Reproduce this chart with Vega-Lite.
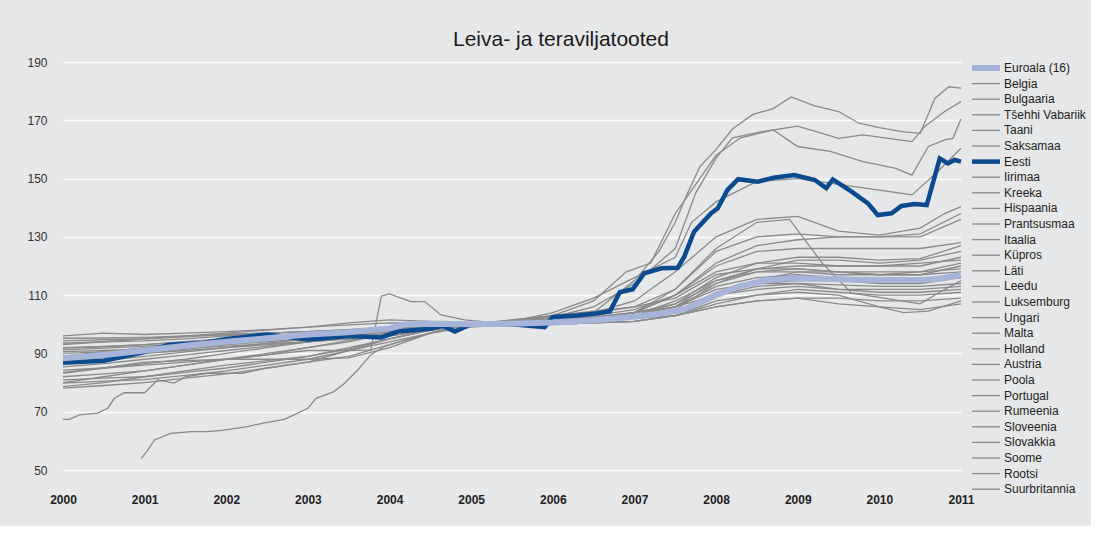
{
"$schema":"https://vega.github.io/schema/vega-lite/v6.json",
"width":898,"height":408,
"padding":{"left":26,"top":29,"right":5,"bottom":21},
"background":"#e6e7e9",
"title":{"text":"Leiva- ja teraviljatooted","fontSize":21,"fontWeight":"normal","font":"Liberation Sans","color":"#1a1a1a","anchor":"middle","dx":49,"offset":6},
"datasets":{"d":[
{"c":"Euroala (16)","t":2000,"v":88.3},{"c":"Euroala (16)","t":2000.5,"v":89.5},{"c":"Euroala (16)","t":2001,"v":91},{"c":"Euroala (16)","t":2001.5,"v":92.6},{"c":"Euroala (16)","t":2002,"v":94},{"c":"Euroala (16)","t":2002.5,"v":95.2},{"c":"Euroala (16)","t":2003,"v":96.5},{"c":"Euroala (16)","t":2003.5,"v":97.3},{"c":"Euroala (16)","t":2004,"v":98.6},{"c":"Euroala (16)","t":2004.2,"v":100},{"c":"Euroala (16)","t":2004.6,"v":100.2},{"c":"Euroala (16)","t":2005,"v":100},{"c":"Euroala (16)","t":2005.5,"v":100.2},{"c":"Euroala (16)","t":2006,"v":100.6},{"c":"Euroala (16)","t":2006.5,"v":101.4},{"c":"Euroala (16)","t":2007,"v":102.6},{"c":"Euroala (16)","t":2007.3,"v":103.6},{"c":"Euroala (16)","t":2007.6,"v":105},{"c":"Euroala (16)","t":2007.8,"v":107.5},{"c":"Euroala (16)","t":2008,"v":110},{"c":"Euroala (16)","t":2008.3,"v":113.2},{"c":"Euroala (16)","t":2008.6,"v":115},{"c":"Euroala (16)","t":2008.9,"v":115.8},{"c":"Euroala (16)","t":2009.3,"v":115.6},{"c":"Euroala (16)","t":2009.7,"v":115.3},{"c":"Euroala (16)","t":2010,"v":115.2},{"c":"Euroala (16)","t":2010.5,"v":115.2},{"c":"Euroala (16)","t":2010.7,"v":115.5},{"c":"Euroala (16)","t":2011,"v":116.9},
{"c":"Eesti","t":2000,"v":86.8},{"c":"Eesti","t":2000.5,"v":87.5},{"c":"Eesti","t":2001,"v":90.5},{"c":"Eesti","t":2001.3,"v":93},{"c":"Eesti","t":2001.7,"v":93.5},{"c":"Eesti","t":2002,"v":95},{"c":"Eesti","t":2002.5,"v":96.5},{"c":"Eesti","t":2003,"v":94.8},{"c":"Eesti","t":2003.5,"v":96},{"c":"Eesti","t":2003.9,"v":95.5},{"c":"Eesti","t":2004.1,"v":97.5},{"c":"Eesti","t":2004.5,"v":98.5},{"c":"Eesti","t":2004.65,"v":99.5},{"c":"Eesti","t":2004.8,"v":97.5},{"c":"Eesti","t":2005,"v":100},{"c":"Eesti","t":2005.5,"v":100},{"c":"Eesti","t":2005.9,"v":99},{"c":"Eesti","t":2006,"v":102.5},{"c":"Eesti","t":2006.3,"v":103},{"c":"Eesti","t":2006.55,"v":103.8},{"c":"Eesti","t":2006.7,"v":104.5},{"c":"Eesti","t":2006.82,"v":111},{"c":"Eesti","t":2006.98,"v":112},{"c":"Eesti","t":2007.12,"v":117.5},{"c":"Eesti","t":2007.33,"v":119.2},{"c":"Eesti","t":2007.53,"v":119.4},{"c":"Eesti","t":2007.61,"v":123.2},{"c":"Eesti","t":2007.73,"v":131.8},{"c":"Eesti","t":2007.94,"v":138.1},{"c":"Eesti","t":2008.02,"v":139.8},{"c":"Eesti","t":2008.14,"v":146.1},{"c":"Eesti","t":2008.27,"v":149.8},{"c":"Eesti","t":2008.51,"v":148.9},{"c":"Eesti","t":2008.72,"v":150.4},{"c":"Eesti","t":2008.96,"v":151.2},{"c":"Eesti","t":2009.21,"v":149.5},{"c":"Eesti","t":2009.35,"v":146.7},{"c":"Eesti","t":2009.43,"v":149.7},{"c":"Eesti","t":2009.66,"v":145.5},{"c":"Eesti","t":2009.86,"v":141.5},{"c":"Eesti","t":2009.98,"v":137.5},{"c":"Eesti","t":2010.15,"v":138.1},{"c":"Eesti","t":2010.27,"v":140.6},{"c":"Eesti","t":2010.43,"v":141.3},{"c":"Eesti","t":2010.58,"v":140.9},{"c":"Eesti","t":2010.74,"v":156.9},{"c":"Eesti","t":2010.84,"v":155.2},{"c":"Eesti","t":2010.92,"v":156.4},{"c":"Eesti","t":2011,"v":155.8},
{"c":"Belgia","t":2000,"v":92},{"c":"Belgia","t":2000.5,"v":92.4},{"c":"Belgia","t":2001,"v":93},{"c":"Belgia","t":2001.5,"v":94},{"c":"Belgia","t":2002,"v":95},{"c":"Belgia","t":2002.5,"v":96},{"c":"Belgia","t":2003,"v":97},{"c":"Belgia","t":2003.5,"v":98},{"c":"Belgia","t":2004,"v":99},{"c":"Belgia","t":2004.5,"v":100},{"c":"Belgia","t":2005,"v":100},{"c":"Belgia","t":2005.5,"v":100.4},{"c":"Belgia","t":2006,"v":101},{"c":"Belgia","t":2006.5,"v":102},{"c":"Belgia","t":2007,"v":104},{"c":"Belgia","t":2007.5,"v":107},{"c":"Belgia","t":2008,"v":116},{"c":"Belgia","t":2008.5,"v":121},{"c":"Belgia","t":2009,"v":123},{"c":"Belgia","t":2009.5,"v":123},{"c":"Belgia","t":2010,"v":122},{"c":"Belgia","t":2010.5,"v":122.5},{"c":"Belgia","t":2011,"v":127},
{"c":"Bulgaaria","t":2000,"v":67.4},{"c":"Bulgaaria","t":2000.08,"v":67.4},{"c":"Bulgaaria","t":2000.2,"v":68.9},{"c":"Bulgaaria","t":2000.42,"v":69.5},{"c":"Bulgaaria","t":2000.55,"v":71.2},{"c":"Bulgaaria","t":2000.63,"v":74.6},{"c":"Bulgaaria","t":2000.75,"v":76.5},{"c":"Bulgaaria","t":2001,"v":76.5},{"c":"Bulgaaria","t":2001.16,"v":80.9},{"c":"Bulgaaria","t":2001.36,"v":79.8},{"c":"Bulgaaria","t":2001.5,"v":82},{"c":"Bulgaaria","t":2001.77,"v":83.2},{"c":"Bulgaaria","t":2002.2,"v":83.2},{"c":"Bulgaaria","t":2002.5,"v":85},{"c":"Bulgaaria","t":2003,"v":87},{"c":"Bulgaaria","t":2003.5,"v":89},{"c":"Bulgaaria","t":2004,"v":93},{"c":"Bulgaaria","t":2004.5,"v":97},{"c":"Bulgaaria","t":2005,"v":99},{"c":"Bulgaaria","t":2005.5,"v":100},{"c":"Bulgaaria","t":2006,"v":101},{"c":"Bulgaaria","t":2006.5,"v":104},{"c":"Bulgaaria","t":2007,"v":115},{"c":"Bulgaaria","t":2007.3,"v":125},{"c":"Bulgaaria","t":2007.5,"v":135},{"c":"Bulgaaria","t":2007.65,"v":145},{"c":"Bulgaaria","t":2007.8,"v":154},{"c":"Bulgaaria","t":2008,"v":160},{"c":"Bulgaaria","t":2008.2,"v":167},{"c":"Bulgaaria","t":2008.45,"v":172},{"c":"Bulgaaria","t":2008.7,"v":174},{"c":"Bulgaaria","t":2008.92,"v":178},{"c":"Bulgaaria","t":2009.2,"v":175},{"c":"Bulgaaria","t":2009.5,"v":173},{"c":"Bulgaaria","t":2009.75,"v":169},{"c":"Bulgaaria","t":2010,"v":167.5},{"c":"Bulgaaria","t":2010.3,"v":166},{"c":"Bulgaaria","t":2010.5,"v":165.5},{"c":"Bulgaaria","t":2010.68,"v":177.5},{"c":"Bulgaaria","t":2010.85,"v":181.5},{"c":"Bulgaaria","t":2011,"v":181},
{"c":"Tšehhi Vabariik","t":2000,"v":84.3},{"c":"Tšehhi Vabariik","t":2000.5,"v":85},{"c":"Tšehhi Vabariik","t":2001,"v":86},{"c":"Tšehhi Vabariik","t":2001.5,"v":87},{"c":"Tšehhi Vabariik","t":2002,"v":88},{"c":"Tšehhi Vabariik","t":2002.5,"v":89.5},{"c":"Tšehhi Vabariik","t":2003,"v":92},{"c":"Tšehhi Vabariik","t":2003.5,"v":94},{"c":"Tšehhi Vabariik","t":2004,"v":97},{"c":"Tšehhi Vabariik","t":2004.5,"v":98.5},{"c":"Tšehhi Vabariik","t":2005,"v":100},{"c":"Tšehhi Vabariik","t":2005.5,"v":99.5},{"c":"Tšehhi Vabariik","t":2006,"v":100},{"c":"Tšehhi Vabariik","t":2006.5,"v":101},{"c":"Tšehhi Vabariik","t":2007,"v":103},{"c":"Tšehhi Vabariik","t":2007.5,"v":106},{"c":"Tšehhi Vabariik","t":2008,"v":115},{"c":"Tšehhi Vabariik","t":2008.5,"v":118},{"c":"Tšehhi Vabariik","t":2009,"v":119},{"c":"Tšehhi Vabariik","t":2009.5,"v":118},{"c":"Tšehhi Vabariik","t":2010,"v":117},{"c":"Tšehhi Vabariik","t":2010.5,"v":118},{"c":"Tšehhi Vabariik","t":2011,"v":121},
{"c":"Taani","t":2000,"v":87.7},{"c":"Taani","t":2000.5,"v":88.5},{"c":"Taani","t":2001,"v":90},{"c":"Taani","t":2001.5,"v":91.5},{"c":"Taani","t":2002,"v":93},{"c":"Taani","t":2002.5,"v":94.5},{"c":"Taani","t":2003,"v":96},{"c":"Taani","t":2003.5,"v":97},{"c":"Taani","t":2004,"v":98},{"c":"Taani","t":2004.5,"v":99},{"c":"Taani","t":2005,"v":100},{"c":"Taani","t":2005.5,"v":100.5},{"c":"Taani","t":2006,"v":101},{"c":"Taani","t":2006.5,"v":102.5},{"c":"Taani","t":2007,"v":104},{"c":"Taani","t":2007.5,"v":110},{"c":"Taani","t":2008,"v":120},{"c":"Taani","t":2008.5,"v":125},{"c":"Taani","t":2009,"v":126},{"c":"Taani","t":2009.5,"v":126},{"c":"Taani","t":2010,"v":126},{"c":"Taani","t":2010.5,"v":126},{"c":"Taani","t":2011,"v":128},
{"c":"Saksamaa","t":2000,"v":93.5},{"c":"Saksamaa","t":2000.5,"v":94},{"c":"Saksamaa","t":2001,"v":94.3},{"c":"Saksamaa","t":2001.5,"v":95},{"c":"Saksamaa","t":2002,"v":96},{"c":"Saksamaa","t":2002.5,"v":97},{"c":"Saksamaa","t":2003,"v":97.5},{"c":"Saksamaa","t":2003.5,"v":98},{"c":"Saksamaa","t":2004,"v":98.5},{"c":"Saksamaa","t":2004.5,"v":99.5},{"c":"Saksamaa","t":2005,"v":100},{"c":"Saksamaa","t":2005.5,"v":100.3},{"c":"Saksamaa","t":2006,"v":100.5},{"c":"Saksamaa","t":2006.5,"v":101},{"c":"Saksamaa","t":2007,"v":102},{"c":"Saksamaa","t":2007.5,"v":104},{"c":"Saksamaa","t":2008,"v":111},{"c":"Saksamaa","t":2008.5,"v":114},{"c":"Saksamaa","t":2009,"v":115},{"c":"Saksamaa","t":2009.5,"v":115},{"c":"Saksamaa","t":2010,"v":114},{"c":"Saksamaa","t":2010.5,"v":114},{"c":"Saksamaa","t":2011,"v":116},
{"c":"Iirimaa","t":2000,"v":89.1},{"c":"Iirimaa","t":2000.5,"v":90.5},{"c":"Iirimaa","t":2001,"v":92},{"c":"Iirimaa","t":2001.5,"v":93.5},{"c":"Iirimaa","t":2002,"v":94.5},{"c":"Iirimaa","t":2002.5,"v":96},{"c":"Iirimaa","t":2003,"v":97},{"c":"Iirimaa","t":2003.5,"v":98},{"c":"Iirimaa","t":2004,"v":99},{"c":"Iirimaa","t":2004.5,"v":99.5},{"c":"Iirimaa","t":2005,"v":100},{"c":"Iirimaa","t":2005.5,"v":100},{"c":"Iirimaa","t":2006,"v":100},{"c":"Iirimaa","t":2006.5,"v":101},{"c":"Iirimaa","t":2007,"v":102},{"c":"Iirimaa","t":2007.5,"v":103},{"c":"Iirimaa","t":2008,"v":106},{"c":"Iirimaa","t":2008.5,"v":108},{"c":"Iirimaa","t":2009,"v":109},{"c":"Iirimaa","t":2009.5,"v":107},{"c":"Iirimaa","t":2010,"v":106},{"c":"Iirimaa","t":2010.5,"v":105},{"c":"Iirimaa","t":2011,"v":107},
{"c":"Kreeka","t":2000,"v":86.6},{"c":"Kreeka","t":2000.5,"v":87.5},{"c":"Kreeka","t":2001,"v":89},{"c":"Kreeka","t":2001.5,"v":90.5},{"c":"Kreeka","t":2002,"v":92},{"c":"Kreeka","t":2002.5,"v":93.5},{"c":"Kreeka","t":2003,"v":95},{"c":"Kreeka","t":2003.5,"v":96.5},{"c":"Kreeka","t":2004,"v":98},{"c":"Kreeka","t":2004.5,"v":99},{"c":"Kreeka","t":2005,"v":100},{"c":"Kreeka","t":2005.5,"v":100.5},{"c":"Kreeka","t":2006,"v":101},{"c":"Kreeka","t":2006.5,"v":102},{"c":"Kreeka","t":2007,"v":104},{"c":"Kreeka","t":2007.5,"v":110},{"c":"Kreeka","t":2008,"v":118},{"c":"Kreeka","t":2008.5,"v":121},{"c":"Kreeka","t":2009,"v":121},{"c":"Kreeka","t":2009.5,"v":120},{"c":"Kreeka","t":2010,"v":120},{"c":"Kreeka","t":2010.5,"v":121},{"c":"Kreeka","t":2011,"v":122},
{"c":"Hispaania","t":2000,"v":85.4},{"c":"Hispaania","t":2000.5,"v":86.5},{"c":"Hispaania","t":2001,"v":88},{"c":"Hispaania","t":2001.5,"v":89.5},{"c":"Hispaania","t":2002,"v":91},{"c":"Hispaania","t":2002.5,"v":92.5},{"c":"Hispaania","t":2003,"v":94},{"c":"Hispaania","t":2003.5,"v":95.5},{"c":"Hispaania","t":2004,"v":97},{"c":"Hispaania","t":2004.5,"v":98.5},{"c":"Hispaania","t":2005,"v":100},{"c":"Hispaania","t":2005.5,"v":101.5},{"c":"Hispaania","t":2006,"v":103},{"c":"Hispaania","t":2006.5,"v":104.5},{"c":"Hispaania","t":2007,"v":106},{"c":"Hispaania","t":2007.5,"v":109},{"c":"Hispaania","t":2008,"v":117},{"c":"Hispaania","t":2008.5,"v":119},{"c":"Hispaania","t":2009,"v":119},{"c":"Hispaania","t":2009.5,"v":118},{"c":"Hispaania","t":2010,"v":117},{"c":"Hispaania","t":2010.5,"v":117},{"c":"Hispaania","t":2011,"v":118},
{"c":"Prantsusmaa","t":2000,"v":90.6},{"c":"Prantsusmaa","t":2000.5,"v":91},{"c":"Prantsusmaa","t":2001,"v":91.5},{"c":"Prantsusmaa","t":2001.5,"v":92.2},{"c":"Prantsusmaa","t":2002,"v":93},{"c":"Prantsusmaa","t":2002.5,"v":94},{"c":"Prantsusmaa","t":2003,"v":95},{"c":"Prantsusmaa","t":2003.5,"v":96},{"c":"Prantsusmaa","t":2004,"v":97.5},{"c":"Prantsusmaa","t":2004.5,"v":99},{"c":"Prantsusmaa","t":2005,"v":100},{"c":"Prantsusmaa","t":2005.5,"v":100.5},{"c":"Prantsusmaa","t":2006,"v":101},{"c":"Prantsusmaa","t":2006.5,"v":101.5},{"c":"Prantsusmaa","t":2007,"v":102.5},{"c":"Prantsusmaa","t":2007.5,"v":104},{"c":"Prantsusmaa","t":2008,"v":110},{"c":"Prantsusmaa","t":2008.5,"v":113},{"c":"Prantsusmaa","t":2009,"v":114},{"c":"Prantsusmaa","t":2009.5,"v":113.5},{"c":"Prantsusmaa","t":2010,"v":113},{"c":"Prantsusmaa","t":2010.5,"v":113},{"c":"Prantsusmaa","t":2011,"v":114},
{"c":"Itaalia","t":2000,"v":83.5},{"c":"Itaalia","t":2000.5,"v":85},{"c":"Itaalia","t":2001,"v":86.5},{"c":"Itaalia","t":2001.5,"v":88},{"c":"Itaalia","t":2002,"v":90},{"c":"Itaalia","t":2002.5,"v":92},{"c":"Itaalia","t":2003,"v":94},{"c":"Itaalia","t":2003.5,"v":96},{"c":"Itaalia","t":2004,"v":97.5},{"c":"Itaalia","t":2004.5,"v":99},{"c":"Itaalia","t":2005,"v":100},{"c":"Itaalia","t":2005.5,"v":100.5},{"c":"Itaalia","t":2006,"v":101},{"c":"Itaalia","t":2006.5,"v":102},{"c":"Itaalia","t":2007,"v":103},{"c":"Itaalia","t":2007.5,"v":106},{"c":"Itaalia","t":2008,"v":113},{"c":"Itaalia","t":2008.5,"v":116},{"c":"Itaalia","t":2009,"v":117},{"c":"Itaalia","t":2009.5,"v":116},{"c":"Itaalia","t":2010,"v":115.5},{"c":"Itaalia","t":2010.5,"v":115},{"c":"Itaalia","t":2011,"v":116},
{"c":"Küpros","t":2000,"v":82},{"c":"Küpros","t":2000.5,"v":83},{"c":"Küpros","t":2001,"v":84},{"c":"Küpros","t":2001.5,"v":86},{"c":"Küpros","t":2002,"v":88},{"c":"Küpros","t":2002.5,"v":90},{"c":"Küpros","t":2003,"v":92},{"c":"Küpros","t":2003.5,"v":94.5},{"c":"Küpros","t":2004,"v":97},{"c":"Küpros","t":2004.5,"v":98.5},{"c":"Küpros","t":2005,"v":100},{"c":"Küpros","t":2005.5,"v":101},{"c":"Küpros","t":2006,"v":102},{"c":"Küpros","t":2006.5,"v":103},{"c":"Küpros","t":2007,"v":105},{"c":"Küpros","t":2007.5,"v":110},{"c":"Küpros","t":2008,"v":121},{"c":"Küpros","t":2008.5,"v":127},{"c":"Küpros","t":2009,"v":129},{"c":"Küpros","t":2009.5,"v":130},{"c":"Küpros","t":2010,"v":130},{"c":"Küpros","t":2010.5,"v":130},{"c":"Küpros","t":2011,"v":136},
{"c":"Läti","t":2000,"v":80.9},{"c":"Läti","t":2000.5,"v":81.5},{"c":"Läti","t":2001,"v":82},{"c":"Läti","t":2001.5,"v":83.5},{"c":"Läti","t":2002,"v":85},{"c":"Läti","t":2002.5,"v":87},{"c":"Läti","t":2003,"v":89},{"c":"Läti","t":2003.5,"v":92},{"c":"Läti","t":2004,"v":95},{"c":"Läti","t":2004.5,"v":98},{"c":"Läti","t":2005,"v":100},{"c":"Läti","t":2005.5,"v":101},{"c":"Läti","t":2006,"v":103},{"c":"Läti","t":2006.5,"v":108},{"c":"Läti","t":2006.9,"v":118},{"c":"Läti","t":2007.2,"v":121},{"c":"Läti","t":2007.5,"v":138},{"c":"Läti","t":2007.8,"v":150},{"c":"Läti","t":2008,"v":158},{"c":"Läti","t":2008.3,"v":164},{"c":"Läti","t":2008.7,"v":166.7},{"c":"Läti","t":2009,"v":161},{"c":"Läti","t":2009.4,"v":159.3},{"c":"Läti","t":2009.8,"v":155.8},{"c":"Läti","t":2010.2,"v":153.5},{"c":"Läti","t":2010.4,"v":151.2},{"c":"Läti","t":2010.6,"v":161},{"c":"Läti","t":2010.8,"v":163.3},{"c":"Läti","t":2010.9,"v":163.8},{"c":"Läti","t":2011,"v":170.4},
{"c":"Leedu","t":2000,"v":79.8},{"c":"Leedu","t":2000.5,"v":80.5},{"c":"Leedu","t":2001,"v":81},{"c":"Leedu","t":2001.5,"v":82.5},{"c":"Leedu","t":2002,"v":84},{"c":"Leedu","t":2002.5,"v":86},{"c":"Leedu","t":2003,"v":88},{"c":"Leedu","t":2003.5,"v":91},{"c":"Leedu","t":2004,"v":94},{"c":"Leedu","t":2004.5,"v":97},{"c":"Leedu","t":2005,"v":100},{"c":"Leedu","t":2005.5,"v":101},{"c":"Leedu","t":2006,"v":102.5},{"c":"Leedu","t":2006.5,"v":106},{"c":"Leedu","t":2007,"v":114},{"c":"Leedu","t":2007.5,"v":126},{"c":"Leedu","t":2007.75,"v":145},{"c":"Leedu","t":2008,"v":157},{"c":"Leedu","t":2008.2,"v":164},{"c":"Leedu","t":2008.55,"v":166},{"c":"Leedu","t":2009,"v":168},{"c":"Leedu","t":2009.5,"v":163.8},{"c":"Leedu","t":2009.8,"v":165},{"c":"Leedu","t":2010.4,"v":162.7},{"c":"Leedu","t":2010.56,"v":168},{"c":"Leedu","t":2010.8,"v":173},{"c":"Leedu","t":2011,"v":176.4},
{"c":"Luksemburg","t":2000,"v":91.8},{"c":"Luksemburg","t":2000.5,"v":92.3},{"c":"Luksemburg","t":2001,"v":93},{"c":"Luksemburg","t":2001.5,"v":94},{"c":"Luksemburg","t":2002,"v":95},{"c":"Luksemburg","t":2002.5,"v":96},{"c":"Luksemburg","t":2003,"v":97},{"c":"Luksemburg","t":2003.5,"v":97.8},{"c":"Luksemburg","t":2004,"v":98.5},{"c":"Luksemburg","t":2004.5,"v":99.3},{"c":"Luksemburg","t":2005,"v":100},{"c":"Luksemburg","t":2005.5,"v":100.7},{"c":"Luksemburg","t":2006,"v":101.5},{"c":"Luksemburg","t":2006.5,"v":102.5},{"c":"Luksemburg","t":2007,"v":104},{"c":"Luksemburg","t":2007.5,"v":106},{"c":"Luksemburg","t":2008,"v":110},{"c":"Luksemburg","t":2008.5,"v":112},{"c":"Luksemburg","t":2009,"v":113},{"c":"Luksemburg","t":2009.5,"v":112},{"c":"Luksemburg","t":2010,"v":112},{"c":"Luksemburg","t":2010.5,"v":112},{"c":"Luksemburg","t":2011,"v":113},
{"c":"Ungari","t":2000,"v":78.6},{"c":"Ungari","t":2000.5,"v":80},{"c":"Ungari","t":2001,"v":82},{"c":"Ungari","t":2001.5,"v":84},{"c":"Ungari","t":2002,"v":86},{"c":"Ungari","t":2002.5,"v":87.5},{"c":"Ungari","t":2003,"v":89},{"c":"Ungari","t":2003.5,"v":91.5},{"c":"Ungari","t":2004,"v":95},{"c":"Ungari","t":2004.5,"v":98},{"c":"Ungari","t":2005,"v":100},{"c":"Ungari","t":2005.5,"v":101},{"c":"Ungari","t":2006,"v":104},{"c":"Ungari","t":2006.5,"v":109},{"c":"Ungari","t":2007,"v":116},{"c":"Ungari","t":2007.5,"v":123},{"c":"Ungari","t":2007.7,"v":135},{"c":"Ungari","t":2008,"v":142},{"c":"Ungari","t":2008.5,"v":149},{"c":"Ungari","t":2009,"v":150},{"c":"Ungari","t":2009.5,"v":148},{"c":"Ungari","t":2010,"v":146},{"c":"Ungari","t":2010.4,"v":144.4},{"c":"Ungari","t":2010.7,"v":152},{"c":"Ungari","t":2011,"v":160.4},
{"c":"Malta","t":2000,"v":95.2},{"c":"Malta","t":2000.5,"v":95.3},{"c":"Malta","t":2001,"v":95.5},{"c":"Malta","t":2001.5,"v":96},{"c":"Malta","t":2002,"v":96.5},{"c":"Malta","t":2002.5,"v":97},{"c":"Malta","t":2003,"v":97.5},{"c":"Malta","t":2003.5,"v":98.2},{"c":"Malta","t":2004,"v":99},{"c":"Malta","t":2004.5,"v":99.5},{"c":"Malta","t":2005,"v":100},{"c":"Malta","t":2005.5,"v":100.5},{"c":"Malta","t":2006,"v":101},{"c":"Malta","t":2006.5,"v":102},{"c":"Malta","t":2007,"v":103},{"c":"Malta","t":2007.5,"v":107},{"c":"Malta","t":2008,"v":114},{"c":"Malta","t":2008.5,"v":119},{"c":"Malta","t":2009,"v":120},{"c":"Malta","t":2009.5,"v":120},{"c":"Malta","t":2010,"v":120},{"c":"Malta","t":2010.5,"v":120},{"c":"Malta","t":2011,"v":123},
{"c":"Holland","t":2000,"v":93},{"c":"Holland","t":2000.5,"v":94},{"c":"Holland","t":2001,"v":95},{"c":"Holland","t":2001.5,"v":96},{"c":"Holland","t":2002,"v":97},{"c":"Holland","t":2002.5,"v":98},{"c":"Holland","t":2003,"v":99},{"c":"Holland","t":2003.5,"v":100.5},{"c":"Holland","t":2004,"v":101.5},{"c":"Holland","t":2004.5,"v":101},{"c":"Holland","t":2005,"v":100},{"c":"Holland","t":2005.5,"v":99.5},{"c":"Holland","t":2006,"v":100},{"c":"Holland","t":2006.5,"v":100.5},{"c":"Holland","t":2007,"v":101},{"c":"Holland","t":2007.5,"v":103},{"c":"Holland","t":2008,"v":106},{"c":"Holland","t":2008.5,"v":108},{"c":"Holland","t":2009,"v":109},{"c":"Holland","t":2009.5,"v":109},{"c":"Holland","t":2010,"v":108},{"c":"Holland","t":2010.5,"v":108},{"c":"Holland","t":2011,"v":109},
{"c":"Austria","t":2000,"v":91.2},{"c":"Austria","t":2000.5,"v":91.8},{"c":"Austria","t":2001,"v":92.5},{"c":"Austria","t":2001.5,"v":93.2},{"c":"Austria","t":2002,"v":94},{"c":"Austria","t":2002.5,"v":95},{"c":"Austria","t":2003,"v":96},{"c":"Austria","t":2003.5,"v":97},{"c":"Austria","t":2004,"v":98},{"c":"Austria","t":2004.5,"v":99},{"c":"Austria","t":2005,"v":100},{"c":"Austria","t":2005.5,"v":100.3},{"c":"Austria","t":2006,"v":100.5},{"c":"Austria","t":2006.5,"v":101},{"c":"Austria","t":2007,"v":102},{"c":"Austria","t":2007.5,"v":104},{"c":"Austria","t":2008,"v":110},{"c":"Austria","t":2008.5,"v":115},{"c":"Austria","t":2009,"v":118},{"c":"Austria","t":2009.5,"v":118},{"c":"Austria","t":2010,"v":118},{"c":"Austria","t":2010.5,"v":118},{"c":"Austria","t":2011,"v":119},
{"c":"Poola","t":2000,"v":83.2},{"c":"Poola","t":2000.5,"v":85},{"c":"Poola","t":2001,"v":87},{"c":"Poola","t":2001.5,"v":87.5},{"c":"Poola","t":2002,"v":88},{"c":"Poola","t":2002.5,"v":88},{"c":"Poola","t":2003,"v":88},{"c":"Poola","t":2003.5,"v":88.5},{"c":"Poola","t":2004,"v":92},{"c":"Poola","t":2004.5,"v":97},{"c":"Poola","t":2005,"v":100},{"c":"Poola","t":2005.5,"v":99.5},{"c":"Poola","t":2006,"v":100},{"c":"Poola","t":2006.5,"v":101.5},{"c":"Poola","t":2007,"v":104},{"c":"Poola","t":2007.5,"v":112},{"c":"Poola","t":2008,"v":125},{"c":"Poola","t":2008.5,"v":130},{"c":"Poola","t":2009,"v":131},{"c":"Poola","t":2009.5,"v":130},{"c":"Poola","t":2010,"v":130},{"c":"Poola","t":2010.5,"v":131},{"c":"Poola","t":2011,"v":138},
{"c":"Portugal","t":2000,"v":94.3},{"c":"Portugal","t":2000.5,"v":94.7},{"c":"Portugal","t":2001,"v":95},{"c":"Portugal","t":2001.5,"v":95.7},{"c":"Portugal","t":2002,"v":96.5},{"c":"Portugal","t":2002.5,"v":97},{"c":"Portugal","t":2003,"v":97.5},{"c":"Portugal","t":2003.5,"v":98.2},{"c":"Portugal","t":2004,"v":99},{"c":"Portugal","t":2004.5,"v":99.5},{"c":"Portugal","t":2005,"v":100},{"c":"Portugal","t":2005.5,"v":100.5},{"c":"Portugal","t":2006,"v":101},{"c":"Portugal","t":2006.5,"v":102},{"c":"Portugal","t":2007,"v":103},{"c":"Portugal","t":2007.5,"v":106},{"c":"Portugal","t":2008,"v":112},{"c":"Portugal","t":2008.5,"v":114},{"c":"Portugal","t":2009,"v":114},{"c":"Portugal","t":2009.5,"v":112},{"c":"Portugal","t":2010,"v":111},{"c":"Portugal","t":2010.5,"v":111},{"c":"Portugal","t":2011,"v":112},
{"c":"Rumeenia","t":2000.96,"v":54},{"c":"Rumeenia","t":2001.04,"v":56.9},{"c":"Rumeenia","t":2001.12,"v":60.3},{"c":"Rumeenia","t":2001.32,"v":62.6},{"c":"Rumeenia","t":2001.57,"v":63.2},{"c":"Rumeenia","t":2001.77,"v":63.2},{"c":"Rumeenia","t":2001.97,"v":63.7},{"c":"Rumeenia","t":2002.26,"v":64.9},{"c":"Rumeenia","t":2002.47,"v":66.2},{"c":"Rumeenia","t":2002.71,"v":67.4},{"c":"Rumeenia","t":2002.83,"v":68.9},{"c":"Rumeenia","t":2003,"v":71.2},{"c":"Rumeenia","t":2003.1,"v":74.6},{"c":"Rumeenia","t":2003.32,"v":76.9},{"c":"Rumeenia","t":2003.45,"v":79.8},{"c":"Rumeenia","t":2003.61,"v":84.3},{"c":"Rumeenia","t":2003.77,"v":89.5},{"c":"Rumeenia","t":2003.93,"v":92.3},{"c":"Rumeenia","t":2004.14,"v":94.1},{"c":"Rumeenia","t":2004.35,"v":95.8},{"c":"Rumeenia","t":2004.55,"v":97.5},{"c":"Rumeenia","t":2004.71,"v":98.6},{"c":"Rumeenia","t":2005.12,"v":99.8},{"c":"Rumeenia","t":2005.5,"v":100.5},{"c":"Rumeenia","t":2006,"v":101},{"c":"Rumeenia","t":2006.5,"v":102},{"c":"Rumeenia","t":2007,"v":103},{"c":"Rumeenia","t":2007.5,"v":108},{"c":"Rumeenia","t":2008,"v":115},{"c":"Rumeenia","t":2008.5,"v":119},{"c":"Rumeenia","t":2009,"v":122},{"c":"Rumeenia","t":2009.5,"v":122},{"c":"Rumeenia","t":2010,"v":121},{"c":"Rumeenia","t":2010.5,"v":122},{"c":"Rumeenia","t":2011,"v":125},
{"c":"Sloveenia","t":2000,"v":80},{"c":"Sloveenia","t":2000.5,"v":82},{"c":"Sloveenia","t":2001,"v":84},{"c":"Sloveenia","t":2001.5,"v":86},{"c":"Sloveenia","t":2002,"v":88},{"c":"Sloveenia","t":2002.5,"v":89.5},{"c":"Sloveenia","t":2003,"v":91},{"c":"Sloveenia","t":2003.5,"v":91},{"c":"Sloveenia","t":2003.77,"v":91.2},{"c":"Sloveenia","t":2003.9,"v":109.7},{"c":"Sloveenia","t":2004,"v":110.4},{"c":"Sloveenia","t":2004.26,"v":107.8},{"c":"Sloveenia","t":2004.43,"v":107.8},{"c":"Sloveenia","t":2004.63,"v":103.2},{"c":"Sloveenia","t":2004.92,"v":101.5},{"c":"Sloveenia","t":2005.5,"v":100},{"c":"Sloveenia","t":2006,"v":100.5},{"c":"Sloveenia","t":2006.5,"v":101},{"c":"Sloveenia","t":2007,"v":102},{"c":"Sloveenia","t":2007.5,"v":105},{"c":"Sloveenia","t":2008,"v":114},{"c":"Sloveenia","t":2008.5,"v":118},{"c":"Sloveenia","t":2009,"v":118},{"c":"Sloveenia","t":2009.5,"v":117},{"c":"Sloveenia","t":2010,"v":117},{"c":"Sloveenia","t":2010.5,"v":117},{"c":"Sloveenia","t":2011,"v":120},
{"c":"Slovakkia","t":2000,"v":78.1},{"c":"Slovakkia","t":2000.5,"v":79},{"c":"Slovakkia","t":2001,"v":80},{"c":"Slovakkia","t":2001.5,"v":81.5},{"c":"Slovakkia","t":2002,"v":83},{"c":"Slovakkia","t":2002.5,"v":85},{"c":"Slovakkia","t":2003,"v":87},{"c":"Slovakkia","t":2003.5,"v":91},{"c":"Slovakkia","t":2004,"v":95},{"c":"Slovakkia","t":2004.5,"v":98},{"c":"Slovakkia","t":2005,"v":100},{"c":"Slovakkia","t":2005.5,"v":101.5},{"c":"Slovakkia","t":2006,"v":103},{"c":"Slovakkia","t":2006.5,"v":104},{"c":"Slovakkia","t":2007,"v":106},{"c":"Slovakkia","t":2007.5,"v":112},{"c":"Slovakkia","t":2008,"v":126},{"c":"Slovakkia","t":2008.5,"v":135},{"c":"Slovakkia","t":2008.9,"v":136},{"c":"Slovakkia","t":2009.3,"v":121},{"c":"Slovakkia","t":2009.66,"v":110.7},{"c":"Slovakkia","t":2009.94,"v":109.5},{"c":"Slovakkia","t":2010.5,"v":107},{"c":"Slovakkia","t":2010.8,"v":112},{"c":"Slovakkia","t":2011,"v":115},
{"c":"Soome","t":2000,"v":90},{"c":"Soome","t":2000.5,"v":90.5},{"c":"Soome","t":2001,"v":91},{"c":"Soome","t":2001.5,"v":91.7},{"c":"Soome","t":2002,"v":92.5},{"c":"Soome","t":2002.5,"v":93.3},{"c":"Soome","t":2003,"v":94},{"c":"Soome","t":2003.5,"v":95},{"c":"Soome","t":2004,"v":96},{"c":"Soome","t":2004.5,"v":98},{"c":"Soome","t":2005,"v":100},{"c":"Soome","t":2005.5,"v":100},{"c":"Soome","t":2006,"v":100},{"c":"Soome","t":2006.5,"v":100.5},{"c":"Soome","t":2007,"v":101},{"c":"Soome","t":2007.5,"v":103},{"c":"Soome","t":2008,"v":107},{"c":"Soome","t":2008.5,"v":110},{"c":"Soome","t":2009,"v":112},{"c":"Soome","t":2009.5,"v":111},{"c":"Soome","t":2010,"v":110},{"c":"Soome","t":2010.5,"v":110},{"c":"Soome","t":2011,"v":111},
{"c":"Rootsi","t":2000,"v":96},{"c":"Rootsi","t":2000.5,"v":97},{"c":"Rootsi","t":2001,"v":96.5},{"c":"Rootsi","t":2001.5,"v":97},{"c":"Rootsi","t":2002,"v":97.5},{"c":"Rootsi","t":2002.5,"v":98.2},{"c":"Rootsi","t":2003,"v":99},{"c":"Rootsi","t":2003.5,"v":99.8},{"c":"Rootsi","t":2004,"v":100.5},{"c":"Rootsi","t":2004.5,"v":100.3},{"c":"Rootsi","t":2005,"v":100},{"c":"Rootsi","t":2005.5,"v":100},{"c":"Rootsi","t":2006,"v":100},{"c":"Rootsi","t":2006.5,"v":100.5},{"c":"Rootsi","t":2007,"v":101},{"c":"Rootsi","t":2007.5,"v":103},{"c":"Rootsi","t":2008,"v":108},{"c":"Rootsi","t":2008.5,"v":110},{"c":"Rootsi","t":2009,"v":111},{"c":"Rootsi","t":2009.5,"v":110},{"c":"Rootsi","t":2010,"v":106},{"c":"Rootsi","t":2010.3,"v":104},{"c":"Rootsi","t":2010.6,"v":104.5},{"c":"Rootsi","t":2011,"v":108},
{"c":"Suurbritannia","t":2000,"v":88},{"c":"Suurbritannia","t":2000.5,"v":89},{"c":"Suurbritannia","t":2001,"v":90},{"c":"Suurbritannia","t":2001.5,"v":91},{"c":"Suurbritannia","t":2002,"v":92},{"c":"Suurbritannia","t":2002.5,"v":93},{"c":"Suurbritannia","t":2003,"v":94},{"c":"Suurbritannia","t":2003.5,"v":95},{"c":"Suurbritannia","t":2004,"v":96},{"c":"Suurbritannia","t":2004.5,"v":98},{"c":"Suurbritannia","t":2005,"v":100},{"c":"Suurbritannia","t":2005.5,"v":101},{"c":"Suurbritannia","t":2006,"v":102},{"c":"Suurbritannia","t":2006.5,"v":104},{"c":"Suurbritannia","t":2007,"v":108},{"c":"Suurbritannia","t":2007.5,"v":118},{"c":"Suurbritannia","t":2008,"v":130},{"c":"Suurbritannia","t":2008.5,"v":136},{"c":"Suurbritannia","t":2009,"v":137},{"c":"Suurbritannia","t":2009.5,"v":132},{"c":"Suurbritannia","t":2010,"v":130.6},{"c":"Suurbritannia","t":2010.5,"v":133},{"c":"Suurbritannia","t":2010.8,"v":138},{"c":"Suurbritannia","t":2011,"v":140.4}
]},
"data":{"name":"d"},
"encoding":{
"x":{"field":"t","type":"quantitative","scale":{"domain":[2000,2011],"nice":false,"zero":false},"axis":{"values":[2000,2001,2002,2003,2004,2005,2006,2007,2008,2009,2010,2011],"format":"d","title":null,"grid":false,"ticks":false,"domain":false,"labelFlush":false,"labelOverlap":false,"labelFontWeight":"bold","labelFontSize":12,"labelPadding":24,"labelColor":"#222222","labelFont":"Liberation Sans"}},
"y":{"field":"v","type":"quantitative","scale":{"domain":[50,190],"nice":false,"zero":false},"axis":{"values":[50,70,90,110,130,150,170,190],"title":null,"ticks":false,"domain":false,"grid":true,"gridColor":"#ffffff","gridWidth":1.6,"labelPadding":16,"labelFontSize":12,"labelColor":"#333333","labelFont":"Liberation Sans"}},
"color":{"field":"c","type":"nominal","scale":{"domain":["Euroala (16)","Belgia","Bulgaaria","Tšehhi Vabariik","Taani","Saksamaa","Eesti","Iirimaa","Kreeka","Hispaania","Prantsusmaa","Itaalia","Küpros","Läti","Leedu","Luksemburg","Ungari","Malta","Holland","Austria","Poola","Portugal","Rumeenia","Sloveenia","Slovakkia","Soome","Rootsi","Suurbritannia"],"range":["#a6b4da","#8a8a8a","#8a8a8a","#8a8a8a","#8a8a8a","#8a8a8a","#0b4a8e","#8a8a8a","#8a8a8a","#8a8a8a","#8a8a8a","#8a8a8a","#8a8a8a","#8a8a8a","#8a8a8a","#8a8a8a","#8a8a8a","#8a8a8a","#8a8a8a","#8a8a8a","#8a8a8a","#8a8a8a","#8a8a8a","#8a8a8a","#8a8a8a","#8a8a8a","#8a8a8a","#8a8a8a"]},"legend":{"title":null,"encode":{"symbols":{"update":{"strokeJoin":{"value":"bevel"},"strokeCap":{"value":"butt"},"strokeWidth":{"signal":"datum.value === 'Euroala (16)' ? 5.5 : datum.value === 'Eesti' ? 4.5 : 1.2"}}}}}},
"strokeWidth":{"field":"c","type":"nominal","scale":{"type":"ordinal","domain":["Euroala (16)","Belgia","Bulgaaria","Tšehhi Vabariik","Taani","Saksamaa","Eesti","Iirimaa","Kreeka","Hispaania","Prantsusmaa","Itaalia","Küpros","Läti","Leedu","Luksemburg","Ungari","Malta","Holland","Austria","Poola","Portugal","Rumeenia","Sloveenia","Slovakkia","Soome","Rootsi","Suurbritannia"],"range":[6,1.3,1.3,1.3,1.3,1.3,4.5,1.3,1.3,1.3,1.3,1.3,1.3,1.3,1.3,1.3,1.3,1.3,1.3,1.3,1.3,1.3,1.3,1.3,1.3,1.3,1.3,1.3]},"legend":null}
},
"layer":[
{"transform":[{"filter":"datum.c !== 'Euroala (16)' && datum.c !== 'Eesti'"}],"mark":{"type":"line"}},
{"transform":[{"filter":"datum.c === 'Eesti'"}],"mark":{"type":"line"}},
{"transform":[{"filter":"datum.c === 'Euroala (16)'"}],"mark":{"type":"line"}}
],
"config":{
"view":{"stroke":null},
"legend":{"orient":"right","offset":-4,"padding":0,"labelFontSize":12,"labelFont":"Liberation Sans","labelColor":"#222222","symbolType":"M-1,0H8.33","symbolSize":36,"symbolStrokeWidth":1.2,"rowPadding":3.6,"labelOffset":23}
}
}
